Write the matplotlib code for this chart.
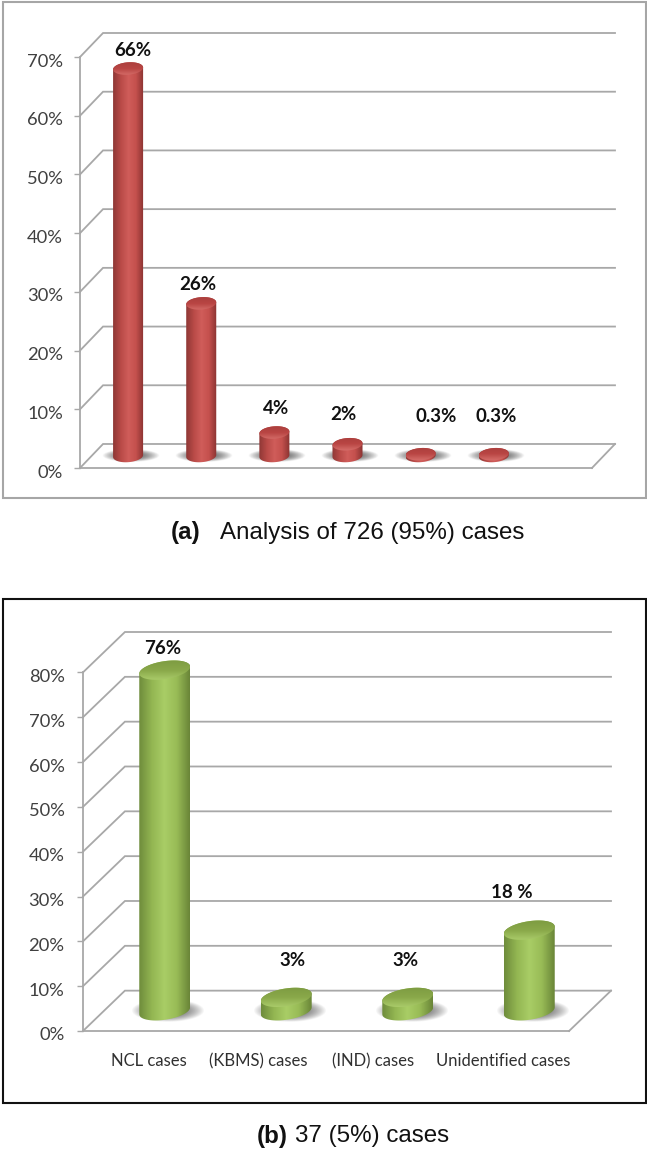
import numpy as np
import matplotlib
matplotlib.use('Agg')
import matplotlib.pyplot as plt
from matplotlib.colors import LinearSegmentedColormap
from matplotlib.patches import PathPatch, Rectangle
from matplotlib.path import Path
from matplotlib.transforms import ScaledTranslation

# panel (a)
values_a = [66, 26, 4, 2, 0.3, 0.3]
labels_a = ['66%', '26%', '4%', '2%', '0.3%', '0.3%']
yticks_a = [0, 10, 20, 30, 40, 50, 60, 70]

# panel (b)
categories_b = ['NCL cases', '(KBMS) cases', '(IND) cases', 'Unidentified cases']
values_b = [76, 3, 3, 18]
labels_b = ['76%', '3%', '3%', '18 %']
yticks_b = [0, 10, 20, 30, 40, 50, 60, 70, 80]

W, H = 647, 1153
NARROW = ['Lato', 'Liberation Sans', 'DejaVu Sans']
GRID = '#a8a8a8'

fig = plt.figure(figsize=(W / 100, H / 100), dpi=100, facecolor='white')


def px_text(x, y, s, **kw):
    fig.text(x / W, 1 - y / H, s, ha='center', va='center', **kw)


def px_frame(x0, y0, x1, y1, color, lw):
    fig.add_artist(Rectangle((x0 / W, 1 - y1 / H), (x1 - x0) / W, (y1 - y0) / H,
                             transform=fig.transFigure, fill=False, ec=color, lw=lw))


def ellipse_pts(cx, cy, a, b, tilt, t):
    return np.column_stack([cx + a * np.cos(t), cy + b * np.sin(t) + tilt * np.cos(t)])


def clipped_image(ax, img, extent, path, zorder, cmap=None):
    im = ax.imshow(img, extent=extent, aspect='auto', cmap=cmap, origin='lower',
                   interpolation='bilinear', zorder=zorder)
    im.set_clip_path(PathPatch(path, transform=ax.transData))


def cylinder(ax, x, y0, val, st):
    a, b, tilt = st['a'], st['b'], st['tilt']
    # shadow under the bar
    sw, sh = a * st['shadow_w'], b * st['shadow_h']
    u = np.linspace(-1, 1, 80)
    xx, yy = np.meshgrid(u, u)
    alpha = np.clip(1.2 - (xx ** 2 + yy ** 2) * 1.2, 0, 1) * 0.85
    rgba = np.ones((80, 80, 4)) * 0.42
    rgba[..., 3] = alpha
    ax.imshow(rgba, extent=(x - sw + st['shadow_dx'], x + sw + st['shadow_dx'], y0 - sh, y0 + sh),
              aspect='auto', origin='lower', zorder=3)
    top = y0 + val
    # side of the cylinder
    lower = ellipse_pts(x, y0, a, b, tilt, np.linspace(np.pi, 2 * np.pi, 40))
    upper = ellipse_pts(x, top, a, b, tilt, np.linspace(0, np.pi, 40))
    side = Path(np.vstack([lower, upper, lower[:1]]), closed=False)
    ramp = np.linspace(0, 1, 64).reshape(1, -1)
    ymin, ymax = y0 - 2 * b - abs(tilt), top + 2 * b + abs(tilt)
    clipped_image(ax, ramp, (x - a, x + a, ymin, ymax), side, 4, st['side_cmap'])
    # top face
    t = np.linspace(0, 2 * np.pi, 80)
    face = Path(ellipse_pts(x, top, a, b, tilt, t), closed=True)
    ramp = np.linspace(0, 1, 32).reshape(-1, 1)
    clipped_image(ax, ramp, (x - a, x + a, top - b - abs(tilt), top + b + abs(tilt)),
                  face, 5, st['top_cmap'])


def panel(box, n_cat, values, yticks, dx, dy, st, xticklabels=None, tick_shift=None, pad=8):
    left, right, top, bottom = box
    ax = fig.add_axes([left / W, 1 - bottom / H, (right - left) / W, (bottom - top) / H])
    ax.set_xlim(0, n_cat + dx)
    ax.set_ylim(0, yticks[-1] + dy)
    ax.autoscale(False)
    ax.patch.set_alpha(0)

    # back wall and floor lines
    for v in yticks:
        ax.plot([0, dx, n_cat + dx], [v, v + dy, v + dy], color=GRID, lw=1.3, zorder=1, clip_on=False,
                solid_joinstyle='miter')
    ax.plot([n_cat + dx, n_cat], [dy, 0], color=GRID, lw=1.3, zorder=1, clip_on=False)

    for i, v in enumerate(values):
        cylinder(ax, i + 0.5 + dx / 2, dy / 2, v, st)

    for name in ['top', 'right']:
        ax.spines[name].set_visible(False)
    ax.spines['left'].set_bounds(0, yticks[-1])
    ax.spines['bottom'].set_bounds(0, n_cat)
    for name in ['left', 'bottom']:
        ax.spines[name].set_color(GRID)
        ax.spines[name].set_linewidth(1.3)
        ax.spines[name].set_zorder(2)
    ax.set_yticks(yticks)
    ax.set_yticklabels(['{}%'.format(v) for v in yticks], family=NARROW, fontsize=13.2, color='#404040')
    ax.tick_params(axis='y', length=4.3, width=1, color=GRID, pad=pad)
    down = ScaledTranslation(0, -3 / 100, fig.dpi_scale_trans)
    for lab in ax.get_yticklabels():
        lab.set_transform(lab.get_transform() + down)
    if xticklabels:
        ax.set_xticks([i + 0.5 + s for i, s in enumerate(tick_shift)])
        ax.set_xticklabels(xticklabels, family=NARROW, fontsize=12, color='#303030')
        ax.tick_params(axis='x', length=0, pad=16)
    else:
        ax.set_xticks([])
    return ax


red_style = {
    'a': 15 / 73.1, 'b': 6.2 / 5.87, 'tilt': 1 / 5.87,
    'shadow_w': 1.9, 'shadow_h': 1.0, 'shadow_dx': 0.03,
    'side_cmap': LinearSegmentedColormap.from_list('rs', ['#8f3836', '#b94a47', '#d05d5a', '#c4504d', '#8a3331']),
    'top_cmap': LinearSegmentedColormap.from_list('rt', ['#d66f6b', '#b94543', '#a93f3c']),
}
green_style = {
    'a': 25.5 / 121.75, 'b': 9 / 4.49, 'tilt': 3.5 / 4.49,
    'shadow_w': 1.45, 'shadow_h': 1.25, 'shadow_dx': 0.03,
    'side_cmap': LinearSegmentedColormap.from_list('gs', ['#6f8d3c', '#93b652', '#a9cd66', '#98bb56', '#6a8638']),
    'top_cmap': LinearSegmentedColormap.from_list('gt', ['#b3d573', '#8aa94a', '#7b9940']),
}

panel((80, 615, 33, 468), 7, values_a, yticks_a, 0.315, 4.09, red_style)
panel((83, 611, 632, 1031), 4, values_b, yticks_b, 0.345, 9.0, green_style,
      xticklabels=categories_b, tick_shift=[0.04, -0.06, -0.11, -0.04], pad=9)

# value labels sit where the author dragged them, so pixel positions here
label_pos_a = [(133, 50), (198, 284), (276, 409), (343, 414), (436, 417), (496, 417)]
label_pos_b = [(163, 648), (293, 960), (405, 960), (512, 892)]
for (x, y), s in zip(label_pos_a, labels_a):
    px_text(x, y, s, family=NARROW, fontsize=13.5, fontweight='bold', color='#111111')
for (x, y), s in zip(label_pos_b, labels_b):
    px_text(x, y, s, family=NARROW, fontsize=13.5, fontweight='bold', color='#111111')

px_frame(2.5, 2, 646, 498, '#a6a6a6', 1.5)
px_frame(2.5, 599, 646, 1103, '#111111', 1.5)

# captions
SANS = ['Liberation Sans', 'DejaVu Sans']
px_text(186, 533, '(a)', family=SANS, fontsize=17.4, fontweight='bold', color='#111111')
px_text(372, 533, 'Analysis of 726 (95%) cases', family=SANS, fontsize=17.4, color='#111111')
px_text(272, 1136, '(b)', family=SANS, fontsize=17.4, fontweight='bold', color='#111111')
px_text(372, 1136, '37 (5%) cases', family=SANS, fontsize=17.4, color='#111111')

plt.savefig('out.png', dpi=100)
